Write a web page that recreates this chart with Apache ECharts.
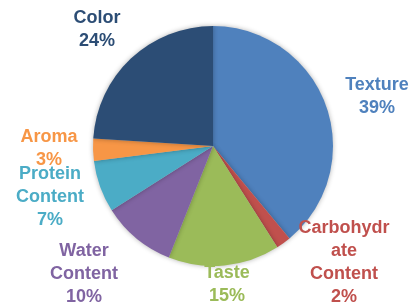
<!DOCTYPE html>
<html>
<head>
<meta charset="utf-8">
<script src="https://cdn.jsdelivr.net/npm/echarts@6/dist/echarts.min.js"></script>
<style>
  html, body { margin: 0; padding: 0; background: #fff; }
  #chart { width: 413px; height: 306px; }
</style>
</head>
<body>
<div id="chart"></div>
<script>
var names = ['Texture', 'Carbohydr\nate\nContent', 'Taste', 'Water\nContent', 'Protein\nContent', 'Aroma', 'Color'];
var values = [39, 2, 15, 10, 7, 3, 24];
var colors = ['#4F81BD', '#C0504D', '#9BBB59', '#8064A2', '#4BACC6', '#F79646', '#2C4D75'];

// label centres (px), same order as names
var labelPos = [[377, 97], [344, 263], [227, 285], [84, 274], [50, 197], [49, 149], [97, 30]];

var chart = echarts.init(document.getElementById('chart'), null, { renderer: 'canvas' });

chart.setOption({
  animation: false,
  series: [{
    type: 'pie',
    center: [213, 146],
    radius: 120,
    startAngle: 90,
    clockwise: true,
    data: names.map(function (n, i) {
      return {
        name: n,
        value: values[i],
        itemStyle: { color: colors[i] },
        label: { color: colors[i] }
      };
    }),
    itemStyle: {
      borderWidth: 0,
      shadowBlur: 5,
      shadowColor: 'rgba(0,0,0,0.3)'
    },
    label: {
      show: true,
      formatter: '{b}\n{c}%',
      fontFamily: 'Liberation Sans, Arial, sans-serif',
      fontWeight: 'bold',
      fontSize: 18,
      lineHeight: 23,
      align: 'center',
      overflow: 'none'
    },
    labelLine: { show: false },
    labelLayout: function (p) {
      var pos = labelPos[p.dataIndex];
      return {
        x: pos[0],
        y: pos[1],
        align: 'center',
        verticalAlign: 'middle',
        moveOverlap: null,
        hideOverlap: false
      };
    }
  }]
});
</script>
</body>
</html>
